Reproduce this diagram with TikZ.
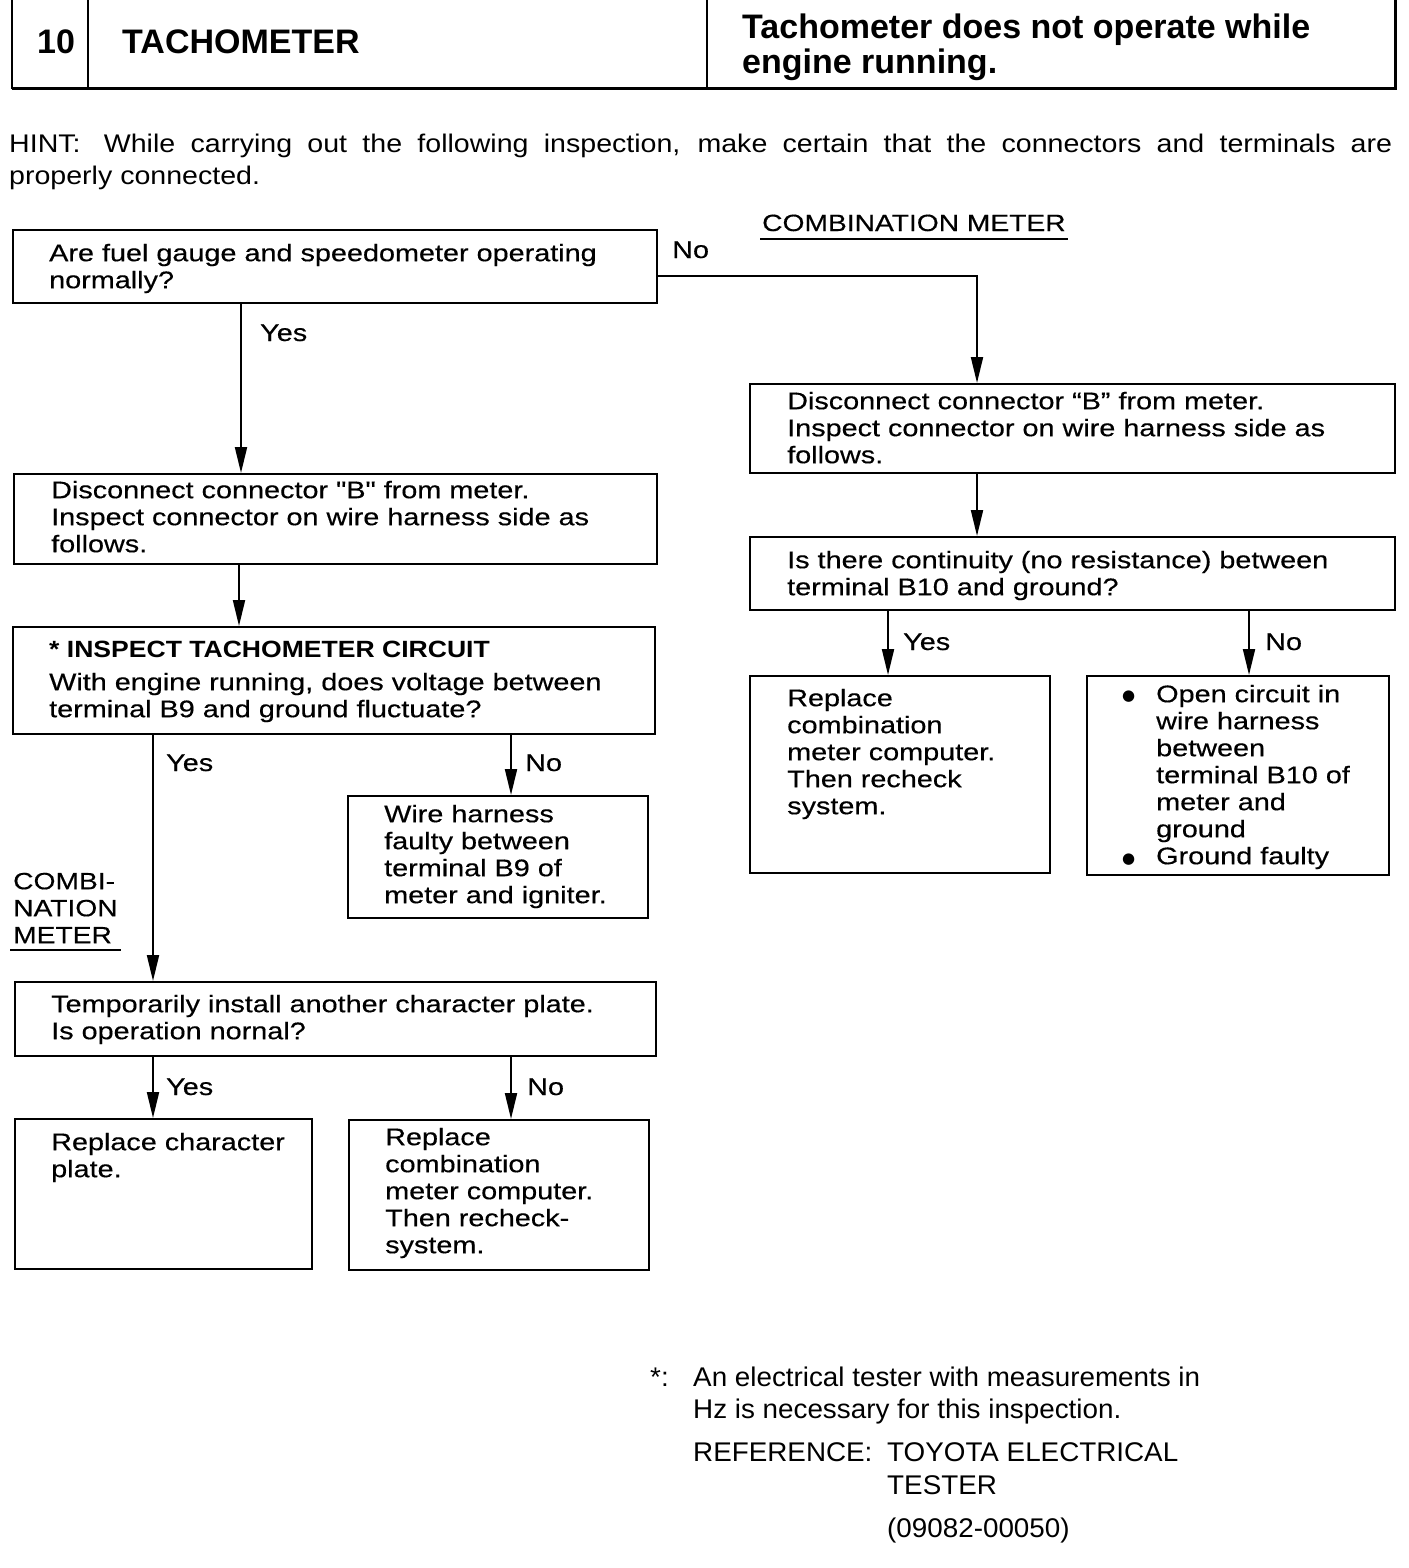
\documentclass[tikz,border=0pt]{standalone}
\usepackage{fontspec}
\setmainfont{Liberation Sans}
\newfontfamily\bodyfont[FakeStretch=1.2,FakeBold=0.4]{Liberation Sans}
\newfontfamily\boldwide[FakeStretch=1.13]{Liberation Sans Bold}
\newfontfamily\hintfont[FakeStretch=1.12]{Liberation Sans}
\newfontfamily\narrowfont[FakeStretch=1.03]{Liberation Sans}
\newfontfamily\headfont[FakeStretch=1.0]{Liberation Sans Bold}
\newfontfamily\symfont{DejaVu Sans}
\usetikzlibrary{arrows.meta}
\newcommand\firstln{\rule{0pt}{20pt}}
\tikzset{
  box/.style={draw, line width=2pt, inner sep=0pt, anchor=north west},
  txt/.style={font=\bodyfont\fontsize{24}{27}\selectfont, anchor=north west, inner sep=0pt, align=left},
  lbl/.style={font=\bodyfont\fontsize{24}{27}\selectfont, anchor=base west, inner sep=0pt},
  arr/.style={line width=2pt, -{Triangle[length=26pt,width=12pt]}},
  hdr/.style={font=\headfont\fontsize{34}{35}\selectfont, anchor=base west, inner sep=0pt},
  note/.style={font=\narrowfont\fontsize{27}{33}\selectfont, anchor=base west, inner sep=0pt},
  bul/.style={font=\symfont\fontsize{15}{15}\selectfont, anchor=base west, inner sep=0pt},
}
\begin{document}
\begin{tikzpicture}[x=1pt,y=-1pt]
\useasboundingbox (0,0) rectangle (1408,1568);
% header
\draw[line width=2pt] (12,0) -- (12,89);
\draw[line width=2pt] (88,0) -- (88,89);
\draw[line width=2pt] (707,0) -- (707,89);
\draw[line width=3pt] (12,89) -- (1395,89) -- (1395,0);
\node[hdr] (hnum) at (37,54) {10};
\node[hdr] (htitle) at (122,54) {TACHOMETER};
\node[hdr] (hsym1) at (742,39) {Tachometer does not operate while};
\node[hdr] (hsym2) at (742,74) {engine running.};
% hint
\node[note, font=\hintfont\fontsize{25.5}{32}\selectfont] (hint1) at (9,153)
  {\makebox[1383pt][s]{HINT:\hspace{8pt} While carrying out the following inspection, make certain that the connectors and terminals are}};
\node[note, font=\hintfont\fontsize{25.5}{32}\selectfont] (hint2) at (9,184) {properly connected.};

% boxes
\node[box, minimum width=644pt, minimum height=73pt] (b1) at (12,229) {};
\node[box, minimum width=643pt, minimum height=90pt] (b2) at (13,473) {};
\node[box, minimum width=642pt, minimum height=107pt] (b3) at (12,626) {};
\node[box, minimum width=300pt, minimum height=122pt] (b4) at (347,795) {};
\node[box, minimum width=641pt, minimum height=74pt] (b5) at (14,981) {};
\node[box, minimum width=297pt, minimum height=150pt] (b6) at (14,1118) {};
\node[box, minimum width=300pt, minimum height=150pt] (b7) at (348,1119) {};
\node[box, minimum width=645pt, minimum height=89pt] (r1) at (749,383) {};
\node[box, minimum width=645pt, minimum height=73pt] (r2) at (749,536) {};
\node[box, minimum width=300pt, minimum height=197pt] (r3) at (749,675) {};
\node[box, minimum width=302pt, minimum height=199pt] (r4) at (1086,675) {};

% box texts
\node[txt] (t1) at (49,241) {\firstln Are fuel gauge and speedometer operating\\normally?};
\node[txt] (t2) at (51,478) {\firstln Disconnect connector "B" from meter.\\Inspect connector on wire harness side as\\follows.};
\node[anchor=base west, inner sep=0pt, font=\boldwide\fontsize{23.5}{27}\selectfont] (t3a) at (49,657) {* INSPECT TACHOMETER CIRCUIT};
\node[txt] (t3b) at (49,670) {\firstln With engine running, does voltage between\\terminal B9 and ground fluctuate?};
\node[txt] (t4) at (384,802) {\firstln Wire harness\\faulty between\\terminal B9 of\\meter and igniter.};
\node[txt] (t5) at (51,992) {\firstln Temporarily install another character plate.\\Is operation nornal?};
\node[txt] (t6) at (51,1130) {\firstln Replace character\\plate.};
\node[txt] (t7) at (385,1125) {\firstln Replace\\combination\\meter computer.\\Then recheck-\\system.};
\node[txt] (tr1) at (787,389) {\firstln Disconnect connector “B” from meter.\\Inspect connector on wire harness side as\\follows.};
\node[txt] (tr2) at (787,548) {\firstln Is there continuity (no resistance) between\\terminal B10 and ground?};
\node[txt] (tr3) at (787,686) {\firstln Replace\\combination\\meter computer.\\Then recheck\\system.};
\node[txt] (tr4) at (1156,682) {\firstln Open circuit in\\wire harness\\between\\terminal B10 of\\meter and\\ground\\Ground faulty};
\node[bul] (bu1) at (1122,700) {●};
\node[bul] (bu2) at (1122,863) {●};

% side titles
\node[lbl, font=\bodyfont\fontsize{23.5}{27}\selectfont] (cmtop) at (762,231) {COMBINATION METER};
\draw[line width=2pt] ([xshift=-2pt,yshift=-8pt]cmtop.base west) -- ([xshift=2pt,yshift=-8pt]cmtop.base east);
\node[txt, font=\bodyfont\fontsize{23.5}{27}\selectfont] (cmleft) at (13,869) {\firstln COMBI-\\NATION\\METER};
\draw[line width=2pt] ([xshift=-3pt,yshift=-7pt]cmleft.south west) -- ([xshift=3pt,yshift=-7pt]cmleft.south east);

% connector x positions
\coordinate (xa) at (241,0);
\coordinate (xb) at (239,0);
\coordinate (xc) at (153,0);
\coordinate (xd) at (511,0);
\coordinate (xr) at (977,0);
\coordinate (xy) at (888,0);
\coordinate (xn) at (1249,0);
\coordinate (ny) at (0,276);

\draw[arr] (b1.south -| xa) -- (b2.north -| xa);
\draw[arr] (b1.east |- ny) -| (r1.north -| xr);
\draw[arr] (b2.south -| xb) -- (b3.north -| xb);
\draw[arr] (b3.south -| xc) -- (b5.north -| xc);
\draw[arr] (b3.south -| xd) -- (b4.north -| xd);
\draw[arr] (b5.south -| xc) -- (b6.north -| xc);
\draw[arr] (b5.south -| xd) -- (b7.north -| xd);
\draw[arr] (r1.south -| xr) -- (r2.north -| xr);
\draw[arr] (r2.south -| xy) -- (r3.north -| xy);
\draw[arr] (r2.south -| xn) -- (r4.north -| xn);

% connector labels
\node[lbl] (lno1) at (672,258) {No};
\node[lbl] (lyes1) at (260,341) {Yes};
\node[lbl] (lyes3) at (166,771) {Yes};
\node[lbl] (lno3) at (525,771) {No};
\node[lbl] (lyes5) at (166,1095) {Yes};
\node[lbl] (lno5) at (527,1095) {No};
\node[lbl] (lyesr) at (903,650) {Yes};
\node[lbl] (lnor) at (1265,650) {No};

% footnote
\node[note] (fstar) at (650,1386) {*:};
\node[note] (fn1) at (693,1386) {An electrical tester with measurements in};
\node[note] (fn2) at (693,1418) {Hz is necessary for this inspection.};
\node[note] (fref) at (693,1461) {REFERENCE:};
\node[note] (fref1) at (887,1461) {TOYOTA ELECTRICAL};
\node[note] (fref2) at (887,1494) {TESTER};
\node[note] (fref3) at (887,1537) {(09082-00050)};
\end{tikzpicture}
\end{document}
